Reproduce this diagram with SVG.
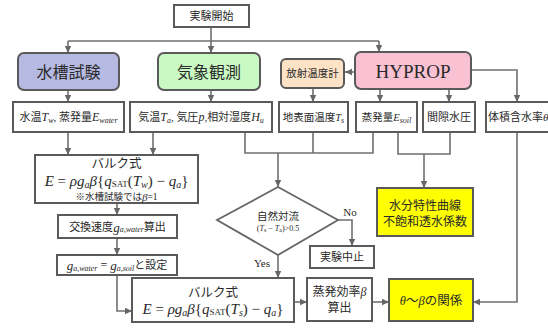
<svg xmlns="http://www.w3.org/2000/svg" width="548" height="328" viewBox="0 0 548 328">
<defs>
<marker id="ah" markerWidth="8" markerHeight="8" refX="7" refY="4" orient="auto" markerUnits="userSpaceOnUse">
<path d="M0,0.8 L7,4 L0,7.2 Z" fill="#666"/>
</marker>
<style>
.bx{fill:#fff;stroke:#5a5a5a;stroke-width:2}
.ln{fill:none;stroke:#707070;stroke-width:1.6}
.ar{fill:none;stroke:#707070;stroke-width:1.6;marker-end:url(#ah)}
text{font-family:"Liberation Serif","Noto Sans CJK JP",serif;fill:#2a2a2a;text-anchor:middle;dominant-baseline:central}
.t{font-size:11px}
.i{font-style:italic}
.s{font-size:8px;font-style:italic}
.m{font-size:15px}
.ms{font-size:10px;font-style:italic}
.big{font-size:16px}
</style>
</defs>
<g id="connectors">
<path class="ln" d="M211,27 V41 M68,41 H379"/>
<path class="ar" d="M68,41 V53"/>
<path class="ar" d="M211,41 V53"/>
<path class="ar" d="M379,41 V52"/>
<path class="ar" d="M355,72 H345"/>
<path class="ar" d="M471,70 H517 V102"/>
<path class="ar" d="M68,90 V102"/>
<path class="ar" d="M211,90 V102"/>
<path class="ar" d="M313,88 V102"/>
<path class="ar" d="M380,89 V102"/>
<path class="ar" d="M449,89 V102"/>
<path class="ar" d="M68,132 V155"/>
<path class="ar" d="M153,132 V155"/>
<path class="ln" d="M245,132 V153 H373 V132 M313,132 V153"/>
<path class="ar" d="M278,153 V187"/>
<path class="ln" d="M398,132 V154 H450 V132"/>
<path class="ar" d="M424,154 V188"/>
<path class="ar" d="M338,220 H352 V246"/>
<path class="ar" d="M278,255 V278"/>
<path class="ar" d="M117,203 V215"/>
<path class="ar" d="M117,238 V255"/>
<path class="ar" d="M117,275 V311 H132"/>
<path class="ar" d="M294,302 H307"/>
<path class="ar" d="M372,302 H389"/>
<path class="ar" d="M517,132 V302 H473"/>
</g>
<g id="start"><rect class="bx" x="174" y="5" width="75" height="22"/><text class="t" x="211.5" y="16">実験開始</text></g>
<g id="suisou"><rect x="18" y="53" width="101" height="37" rx="6" fill="#b6bae2" stroke="#5a5a5a" stroke-width="2"/><text class="big" x="68.5" y="72">水槽試験</text></g>
<g id="kishou"><rect x="158" y="53" width="102" height="37" rx="6" fill="#c9f9c3" stroke="#5a5a5a" stroke-width="2"/><text class="big" x="209" y="72">気象観測</text></g>
<g id="housha"><rect x="281" y="59" width="63" height="29" rx="5" fill="#fde2c6" stroke="#5a5a5a" stroke-width="2"/><text x="312.5" y="73.5" style="font-size:10.5px">放射温度計</text></g>
<g id="hyprop"><rect x="355" y="52" width="116" height="37" rx="6" fill="#f9c1d2" stroke="#5a5a5a" stroke-width="2"/><text x="413" y="71" style="font-size:19px">HYPROP</text></g>
<g id="suion"><rect class="bx" x="13" y="102" width="111" height="30"/><text class="t" x="68.5" y="117">水温<tspan class="i" style="font-size:12px">T</tspan><tspan class="s" dy="2.5">w</tspan><tspan dy="-2.5">, 蒸発量</tspan><tspan class="i" style="font-size:12px">E</tspan><tspan class="s" dy="2.5">water</tspan></text></g>
<g id="kion"><rect class="bx" x="130" y="102" width="142" height="30"/><text class="t" x="201" y="117">気温<tspan class="i" style="font-size:12px">T</tspan><tspan class="s" dy="2.5">a</tspan><tspan dy="-2.5">, 気圧</tspan><tspan class="i" style="font-size:12px">p</tspan><tspan>,相対湿度</tspan><tspan class="i" style="font-size:12px">H</tspan><tspan class="s" dy="2.5">u</tspan></text></g>
<g id="chihyou"><rect class="bx" x="279" y="102" width="69" height="30"/><text x="313.5" y="117" style="font-size:10.5px">地表面温度<tspan class="i">T</tspan><tspan class="s" dy="2.5">s</tspan></text></g>
<g id="jouhatsu"><rect class="bx" x="356" y="102" width="61" height="30"/><text x="386.5" y="117" style="font-size:10.5px">蒸発量<tspan class="i">E</tspan><tspan class="s" dy="2.5">soil</tspan></text></g>
<g id="kangeki"><rect class="bx" x="423" y="102" width="52" height="30"/><text class="t" x="449" y="117">間隙水圧</text></g>
<g id="taiseki"><rect class="bx" x="486" y="102" width="64" height="30"/><text class="t" x="488" y="117" style="text-anchor:start">体積含水率<tspan class="i">θ</tspan></text></g>
<g id="bulk1"><rect class="bx" x="35" y="155" width="163" height="48"/>
<text x="116.5" y="164" style="font-size:12.5px">バルク式</text>
<text x="116.5" y="181" class="m"><tspan class="i">E</tspan> = <tspan class="i">ρg</tspan><tspan class="ms" dy="3">a</tspan><tspan class="i" dy="-3">β</tspan>{<tspan class="i">q</tspan><tspan dy="3" style="font-size:9px">SAT</tspan><tspan dy="-3">(</tspan><tspan class="i">T</tspan><tspan class="ms" dy="3">w</tspan><tspan dy="-3">) − </tspan><tspan class="i">q</tspan><tspan class="ms" dy="3">a</tspan><tspan dy="-3">}</tspan></text>
<text x="116.5" y="197" style="font-size:9.5px">※水槽試験では<tspan class="i" style="font-size:11px">β</tspan>=1</text></g>
<g id="koukan"><rect class="bx" x="58" y="215" width="119" height="23"/><text class="t" x="117.5" y="226.5">交換速度<tspan class="i" style="font-size:13px">g</tspan><tspan class="s" dy="2.5">a,water</tspan><tspan dy="-2.5">算出</tspan></text></g>
<g id="settei"><rect class="bx" x="57" y="255" width="120" height="20"/><text class="t" x="117" y="265"><tspan class="i" style="font-size:13px">g</tspan><tspan class="s" dy="2.5">a,water</tspan><tspan dy="-2.5" style="font-size:12px"> = </tspan><tspan class="i" style="font-size:13px">g</tspan><tspan class="s" dy="2.5">a,soil</tspan><tspan dy="-2.5">と設定</tspan></text></g>
<g id="shizen"><polygon points="278,187 338,220 278,255 217,220" fill="#fff" stroke="#666" stroke-width="1.8"/>
<text x="278" y="216" style="font-size:10.5px">自然対流</text>
<text x="278" y="228" style="font-size:8px">(<tspan class="i">T</tspan><tspan dy="1.5" style="font-size:6px">s</tspan><tspan dy="-1.5"> − </tspan><tspan class="i">T</tspan><tspan dy="1.5" style="font-size:6px">a</tspan><tspan dy="-1.5">)&gt;0.5</tspan></text></g>
<g id="labels"><text x="350" y="212" style="font-size:11px">No</text><text x="262" y="263" style="font-size:11px">Yes</text></g>
<g id="chushi"><rect class="bx" x="310" y="246" width="64" height="22"/><text class="t" x="342" y="257">実験中止</text></g>
<g id="suibun"><rect x="377" y="188" width="96" height="48" fill="#ffff00" stroke="#5a5a5a" stroke-width="2"/><text x="425" y="206" style="font-size:12px">水分特性曲線</text><text x="425" y="222" style="font-size:12px">不飽和透水係数</text></g>
<g id="bulk2"><rect class="bx" x="132" y="278" width="162" height="44"/>
<text x="213" y="293" style="font-size:12.5px">バルク式</text>
<text x="213" y="309" class="m"><tspan class="i">E</tspan> = <tspan class="i">ρg</tspan><tspan class="ms" dy="3">a</tspan><tspan class="i" dy="-3">β</tspan>{<tspan class="i">q</tspan><tspan dy="3" style="font-size:9px">SAT</tspan><tspan dy="-3">(</tspan><tspan class="i">T</tspan><tspan class="ms" dy="3">s</tspan><tspan dy="-3">) − </tspan><tspan class="i">q</tspan><tspan class="ms" dy="3">a</tspan><tspan dy="-3">}</tspan></text></g>
<g id="kouritsu"><rect class="bx" x="307" y="278" width="65" height="43"/><text x="339.5" y="292" style="font-size:12px">蒸発効率<tspan class="i">β</tspan></text><text x="339.5" y="308" style="font-size:12px">算出</text></g>
<g id="kankei"><rect x="389" y="279" width="84" height="42" fill="#ffff00" stroke="#5a5a5a" stroke-width="2"/><text x="431" y="301" style="font-size:12.5px"><tspan class="i">θ</tspan>〜<tspan class="i">β</tspan>の関係</text></g>
</svg>
